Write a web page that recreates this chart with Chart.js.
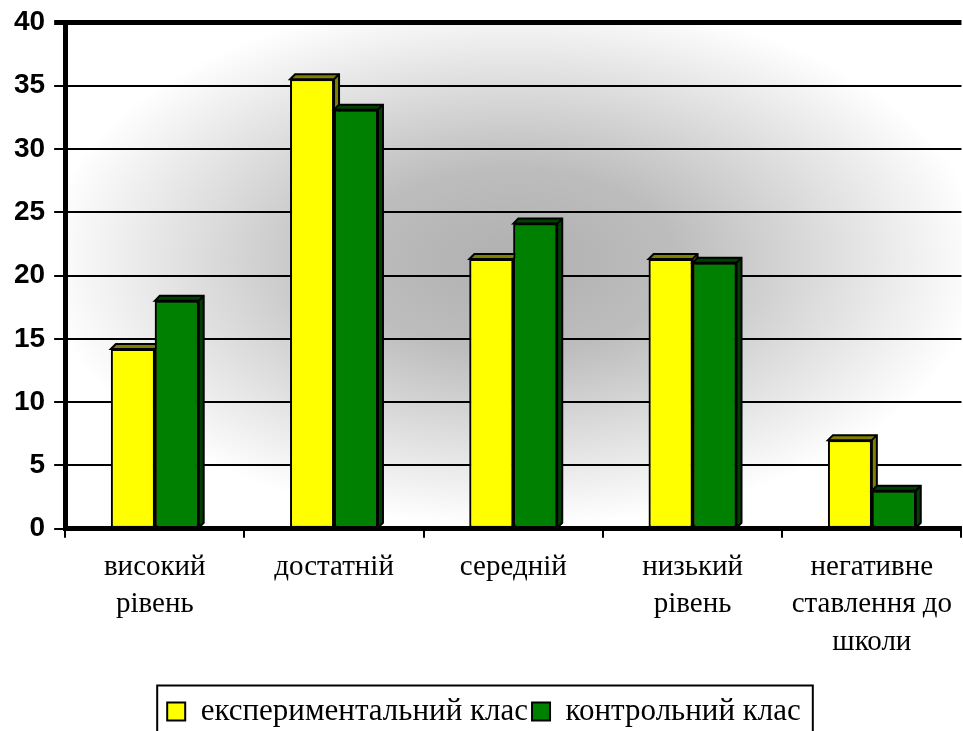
<!DOCTYPE html>
<html>
<head>
<meta charset="utf-8">
<script src="https://cdn.jsdelivr.net/npm/chart.js@4/dist/chart.umd.min.js"></script>
<style>
  html, body { margin: 0; padding: 0; background: #fff; }
  #wrap { width: 963px; height: 731px; }
</style>
</head>
<body>
<div id="wrap"><canvas id="myChart" width="963" height="731"></canvas></div>
<script>
const categories = [
    ['високий', 'рівень'],
    'достатній',
    'середній',
    ['низький', 'рівень'],
    ['негативне', 'ставлення до', 'школи']
];
const seriesNames = ['експериментальний клас', 'контрольний клас'];
const experimentalValues = [14.2, 35.5, 21.3, 21.3, 7.0];
const controlValues = [18.0, 33.1, 24.1, 21.0, 3.0];
const yTicks = [0, 5, 10, 15, 20, 25, 30, 35, 40];

const FRONT_COLORS = ['#ffff00', '#008000'];
const SIDE_COLORS = ['#808000', '#004000'];
const DEPTH = 5;

// grey-to-white gradient from the centre of the plot area
const bgPlugin = {
    id: 'bgPlugin',
    beforeDraw(chart) {
        const a = chart.chartArea;
        const ctx = chart.ctx;
        const cx = (a.left + a.right) / 2;
        const cy = (a.top + a.bottom) / 2 - 15;
        const rx = (a.right - a.left) / 2;
        const ry = (a.bottom - a.top) / 2;
        ctx.save();
        ctx.fillStyle = '#fff';
        ctx.fillRect(a.left, a.top, a.right - a.left, a.bottom - a.top);
        ctx.beginPath();
        ctx.rect(a.left, a.top, a.right - a.left, a.bottom - a.top);
        ctx.clip();
        ctx.translate(cx, cy);
        ctx.scale(rx / ry, 1);
        const g = ctx.createRadialGradient(0, 0, 0, 0, 0, ry * 1.05);
        g.addColorStop(0, '#b0b0b0');
        g.addColorStop(0.35, '#bdbdbd');
        g.addColorStop(1, '#ffffff');
        ctx.fillStyle = g;
        ctx.fillRect(-ry * 2, -ry * 2, ry * 4, ry * 4);
        ctx.restore();
    }
};

// fake 3D faces on the bars
const depthPlugin = {
    id: 'depthPlugin',
    afterDatasetsDraw(chart) {
        const ctx = chart.ctx;
        ctx.save();
        chart.data.datasets.forEach((ds, di) => {
            const meta = chart.getDatasetMeta(di);
            meta.data.forEach(bar => {
                const p = bar.getProps(['x', 'y', 'base', 'width'], true);
                const l = p.x - p.width / 2;
                const r = p.x + p.width / 2;
                const t = p.y;
                const b = p.base;
                ctx.lineWidth = 2;
                ctx.strokeStyle = '#000';
                ctx.fillStyle = SIDE_COLORS[di];
                ctx.beginPath();
                ctx.moveTo(l, t);
                ctx.lineTo(l + DEPTH, t - DEPTH);
                ctx.lineTo(r + DEPTH, t - DEPTH);
                ctx.lineTo(r + DEPTH, b - DEPTH);
                ctx.lineTo(r, b);
                ctx.lineTo(r, t);
                ctx.closePath();
                ctx.fill();
                ctx.stroke();
                ctx.beginPath();
                ctx.moveTo(r, t);
                ctx.lineTo(r + DEPTH, t - DEPTH);
                ctx.stroke();
                bar.draw(ctx);
            });
        });
        ctx.restore();
    }
};

// frame around the legend
const legendBoxPlugin = {
    id: 'legendBoxPlugin',
    afterDraw(chart) {
        const boxes = chart.legend.legendHitBoxes;
        if (!boxes || !boxes.length) return;
        const ctx = chart.ctx;
        const left = Math.min(...boxes.map(b => b.left)) - 10;
        const right = Math.max(...boxes.map(b => b.left + b.width)) + 12;
        const top = Math.min(...boxes.map(b => b.top + b.height / 2)) - 26;
        ctx.save();
        ctx.strokeStyle = '#000';
        ctx.lineWidth = 2;
        ctx.strokeRect(left, top, right - left, 80);
        ctx.restore();
    }
};

function drawChart() {
    const ctx = document.getElementById('myChart').getContext('2d');
    const myChart = new Chart(ctx, {
        type: 'bar',
        data: {
            labels: categories,
            datasets: seriesNames.map((name, i) => ({
                label: name,
                data: i === 0 ? experimentalValues : controlValues,
                backgroundColor: FRONT_COLORS[i],
                borderColor: '#000',
                borderWidth: 2,
                borderSkipped: false,
                categoryPercentage: 0.49,
                barPercentage: 1
            }))
        },
        options: {
            responsive: false,
            animation: false,
            layout: {
                padding: { top: 0, left: 5, right: 0, bottom: -6 }
            },
            scales: {
                x: {
                    afterFit(scale) {
                        scale.height += 20;
                    },
                    grid: {
                        offset: true,
                        drawOnChartArea: false,
                        color: '#000',
                        lineWidth: 2,
                        tickLength: 9
                    },
                    border: { color: '#000', width: 5 },
                    ticks: {
                        color: '#000',
                        padding: 11,
                        maxRotation: 0,
                        autoSkip: false,
                        font: { family: 'Liberation Serif', size: 29, lineHeight: 1.29 }
                    }
                },
                y: {
                    min: 0,
                    max: 40,
                    afterBuildTicks(scale) {
                        scale.ticks = yTicks.map(v => ({ value: v }));
                    },
                    grid: {
                        color: '#000',
                        lineWidth: ctx => (ctx.tick && ctx.tick.value === 40 ? 5 : 2),
                        tickLength: 11
                    },
                    border: { color: '#000', width: 5 },
                    ticks: {
                        color: '#000',
                        padding: 9,
                        font: { family: 'Liberation Sans', size: 28, weight: 'bold', lineHeight: 0.95 }
                    }
                }
            },
            plugins: {
                legend: {
                    position: 'bottom',
                    labels: {
                        color: '#000',
                        boxWidth: 18,
                        boxHeight: 18,
                        padding: 4,
                        font: { family: 'Liberation Serif', size: 31 }
                    }
                },
                tooltip: { enabled: false }
            }
        },
        plugins: [bgPlugin, depthPlugin, legendBoxPlugin]
    });
}

drawChart();
</script>
</body>
</html>
